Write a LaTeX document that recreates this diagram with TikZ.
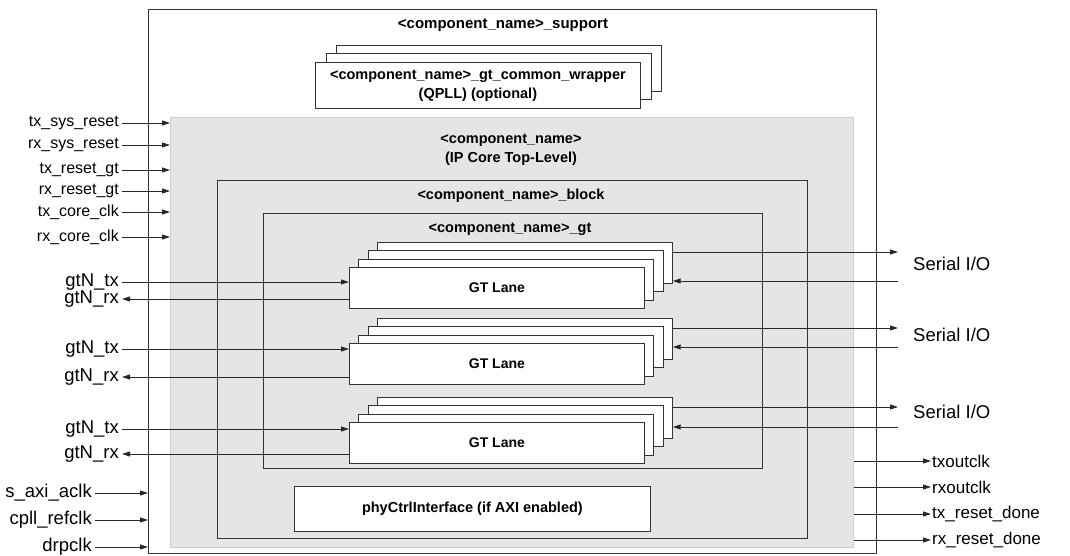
\documentclass[tikz,border=0pt]{standalone}
\usepackage{fontspec}
\setmainfont{Liberation Sans}
\usetikzlibrary{arrows.meta}

\begin{document}
\begin{tikzpicture}[x=1pt,y=-1pt,
    box/.style={draw=black!80,line width=0.8pt,inner sep=0pt,anchor=north west},
    card/.style={box,fill=white},
    sig/.style={draw=black!85,line width=0.8pt,-{Triangle[length=8pt,width=5pt]}},
    lbl/.style={font=\fontsize{16}{18}\selectfont,inner sep=3pt},
    big/.style={lbl,font=\fontsize{18.5}{20}\selectfont},
    ttl/.style={font=\bfseries\fontsize{14.5}{19}\selectfont,inner sep=0pt,align=center}]

    \useasboundingbox (0,0) rectangle (1070,556);

    % nested blocks
    \node[box,minimum width=728pt,minimum height=544pt] (support) at (148,9) {};
    \node[box,draw=black!18,fill=black!10,minimum width=683pt,minimum height=430pt] (core) at (170,117) {};
    \node[box,minimum width=590pt,minimum height=358pt] (block) at (217,180) {};
    \node[box,minimum width=499pt,minimum height=255pt] (gtw) at (263,213) {};
    \node[card,ttl,minimum width=356pt,minimum height=45pt] (phy) at (294,486) {phyCtrlInterface (if AXI enabled)};

    \node[ttl,font=\bfseries\fontsize{15}{18}\selectfont] (tsupport) at (503,25) {<component\_name>\_support};
    \node[ttl] (tcore) at (511,150) {<component\_name>\\(IP Core Top-Level)};
    \node[ttl] (tblock) at (511,196) {<component\_name>\_block};
    \node[ttl] (tgt) at (510,229) {<component\_name>\_gt};

    % common wrapper stack
    \foreach \k in {2,1}
        \node[card,minimum width=325pt,minimum height=46pt] (wrap\k) at ({315+10.5*\k},{62-8.5*\k}) {};
    \node[card,ttl,minimum width=325pt,minimum height=46pt] (wrap) at (315,62) {<component\_name>\_gt\_common\_wrapper\\(QPLL) (optional)};

    % GT lane stacks
    \foreach \t/\n in {267/1,343/2,422/3} {
        \foreach \k in {3,2,1}
            \node[card,minimum width=295pt,minimum height=41pt] (lane\n-\k) at ({349+9.3*\k},{\t-8.3*\k}) {};
        \node[card,minimum width=295pt,minimum height=41pt,font=\bfseries\fontsize{14}{16}\selectfont] (lane\n) at (349,\t) {GT Lane};
    }

    % inputs to the core
    \foreach \y/\n/\t in {123/tsr/tx\_sys\_reset,145/rsr/rx\_sys\_reset,170/trg/tx\_reset\_gt,
                          191/rrg/rx\_reset\_gt,212/tcc/tx\_core\_clk,237/rcc/rx\_core\_clk} {
        \node[lbl,anchor=east] (\n) at (122,\y) {\t};
        \draw[sig] (\n.east) -- (\n.east -| core.west);
    }

    % inputs to the support level
    \foreach \y/\n/\t in {493/sac/s\_axi\_aclk,520/cpr/cpll\_refclk,547/drp/drpclk} {
        \node[big,anchor=east] (\n) at (95,\y) {\t};
        \draw[sig] (\n.east) -- (\n.east -| support.west);
    }

    % lane ports
    \foreach \n/\a/\b/\o/\i/\s in {1/282/299/252/281/264,2/349/377/328/347/335,3/429/454/407/427/412} {
        \node[big,anchor=east] (tx\n) at (122,\a) {gtN\_tx};
        \node[big,anchor=east] (rx\n) at (122,\b) {gtN\_rx};
        \draw[sig] (tx\n.east) -- (tx\n.east -| lane\n.west);
        \draw[sig] (rx\n.east -| lane\n.west) -- (rx\n.east);
        \node[big,anchor=west] (ser\n) at (910,\s) {Serial I/O};
        \coordinate (so\n) at (898,\o);
        \coordinate (si\n) at (898,\i);
        \draw[sig] (so\n -| lane\n-3.east) -- (so\n);
        \draw[sig] (si\n) -- (si\n -| lane\n-3.east);
    }

    % outputs
    \foreach \y/\n/\t in {461/txo/txoutclk,487/rxo/rxoutclk,514/trd/tx\_reset\_done,540/rrd/rx\_reset\_done} {
        \node[lbl,font=\fontsize{17}{19}\selectfont,anchor=west,inner sep=1pt] (\n) at (931,\y) {\t};
        \draw[sig] (\n.west -| core.east) -- (\n.west);
    }

\end{tikzpicture}
\end{document}
